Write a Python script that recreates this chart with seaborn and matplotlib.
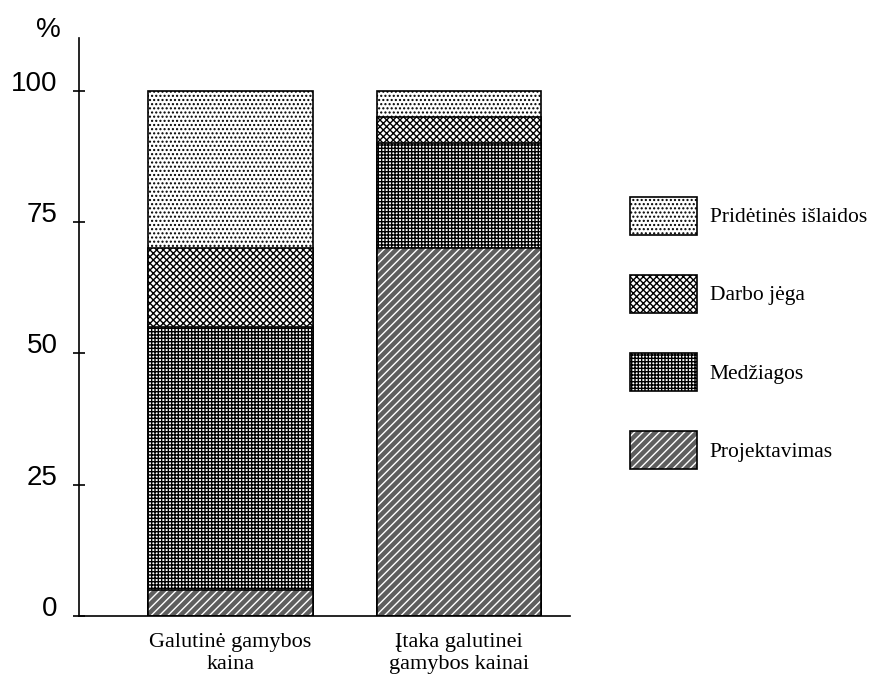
import matplotlib
matplotlib.use("Agg")
import matplotlib.pyplot as plt
import matplotlib.patches as mpatches
import numpy as np
import seaborn as sns

# data (percent of cost)
categories = ["Galutinė gamybos\nkaina", "Įtaka galutinei\ngamybos kainai"]
components = ["Projektavimas", "Medžiagos", "Darbo jėga", "Pridėtinės išlaidos"]
projektavimas = [5, 70]
medziagos = [50, 20]
darbo_jega = [15, 5]
pridetines = [30, 5]
yticks = [0, 25, 50, 75, 100]

# face colour, hatch, hatch colour for each component
styles = {
    "Pridėtinės išlaidos": ("white", "....", "black"),
    "Darbo jėga": ("white", "xxxxx", "black"),
    "Medžiagos": ("white", "+++++", "black"),
    "Projektavimas": ("#5e5e5e", "////", "white"),
}

sns.set_theme(style="white")
plt.rcParams["font.family"] = ["Liberation Serif", "DejaVu Serif"]
plt.rcParams["hatch.linewidth"] = 1.0
for k in ["text.color", "xtick.color", "ytick.color", "axes.labelcolor"]:
    plt.rcParams[k] = "black"

fig = plt.figure(figsize=(8.81, 6.81), dpi=100)
ax = fig.add_axes([0.0897, 0.0954, 0.647 - 0.0897, 0.944 - 0.0954])

values = [projektavimas, medziagos, darbo_jega, pridetines]
cum = np.cumsum(np.array(values), axis=0)

# draw from the top segment down so each lower layer covers the one above
for i in range(len(components) - 1, -1, -1):
    name = components[i]
    fc, hatch, hc = styles[name]
    sns.barplot(x=categories, y=list(cum[i]), order=categories, color=fc,
                saturation=1, width=0.72, hatch=hatch, edgecolor=hc,
                linewidth=0 if hc == "white" else 1.2, ax=ax)
    if hc == "white":
        sns.barplot(x=categories, y=list(cum[i]), order=categories,
                    color="black", fill=False, width=0.72, linewidth=1.2, ax=ax)

ax.set_xlim(-0.663, 1.486)
ax.set_ylim(0, 110)
ax.set_yticks(yticks)
ax.set_yticklabels([str(t) for t in yticks], family=["Liberation Sans", "DejaVu Sans"],
                   va="baseline")
ax.set_xlabel("")
ax.set_ylabel("")

for s in ["top", "right"]:
    ax.spines[s].set_visible(False)
for s in ["left", "bottom"]:
    ax.spines[s].set_color("black")
    ax.spines[s].set_linewidth(1.2)

ax.tick_params(axis="y", direction="inout", length=9, width=1.2, color="black",
               left=True, pad=11, labelsize=20)
ax.tick_params(axis="x", length=0, pad=12, labelsize=16)
for lab in ax.get_xticklabels():
    lab.set_linespacing(1.25)

fig.text(48 / 881, 1 - 30 / 681, "%", ha="center", va="center", fontsize=20,
         family=["Liberation Sans", "DejaVu Sans"])

handles = []
for name in components[::-1]:
    fc, hatch, hc = styles[name]
    if hc == "white":
        h = (mpatches.Patch(facecolor=fc, hatch=hatch, edgecolor=hc, linewidth=0),
             mpatches.Patch(facecolor="none", edgecolor="black", linewidth=1.2))
    else:
        h = mpatches.Patch(facecolor=fc, hatch=hatch, edgecolor=hc, linewidth=1.2)
    handles.append(h)

fig.legend(handles, components[::-1], loc="upper left",
           bbox_to_anchor=(619 / 881, 1 - 186 / 681), frameon=False,
           fontsize=15.5, handlelength=3.12, handleheight=2.34,
           labelspacing=1.86, handletextpad=0.6, borderpad=0)

fig.savefig("out.png", dpi=100)
